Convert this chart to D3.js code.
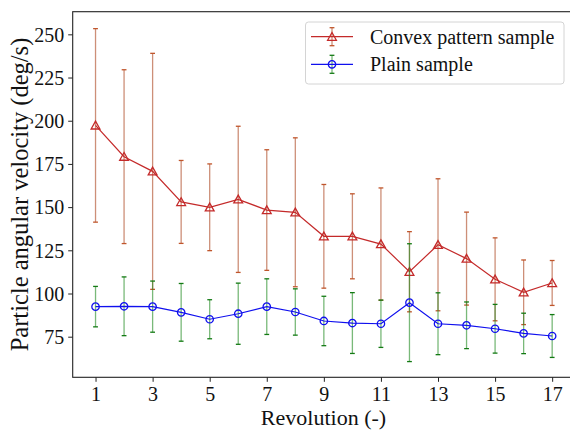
<!DOCTYPE html>
<html lang="en">
<head>
<meta charset="utf-8" />
<title>Particle angular velocity</title>
<script src="https://cdn.jsdelivr.net/npm/d3@7"></script>
<style>
body { margin: 0; background: white; }
svg text { font-family: "Liberation Serif", "Times New Roman", serif; fill: #111; }
</style>
</head>
<body>
<script>
// data
var revolution = [1, 2, 3, 4, 5, 6, 7, 8, 9, 10, 11, 12, 13, 14, 15, 16, 17];
var convexMean = [197.3, 179.2, 170.7, 153.0, 149.9, 154.5, 148.3, 147.0, 133.1, 133.1, 128.6, 112.6, 128.2, 120.2, 108.2, 100.7, 106.1];
var convexErr  = [56.0, 50.3, 68.3, 24.0, 25.1, 42.3, 34.9, 43.1, 30.0, 24.6, 32.5, 23.2, 38.2, 26.9, 24.0, 18.7, 13.0];
var plainMean  = [92.4, 92.6, 92.4, 89.1, 85.1, 88.3, 92.4, 89.3, 84.1, 82.9, 82.5, 94.7, 82.5, 81.6, 79.6, 76.9, 75.4];
var plainErr   = [11.7, 17.0, 14.8, 16.7, 11.3, 17.7, 16.1, 13.4, 14.3, 17.6, 13.7, 34.1, 17.9, 13.5, 14.1, 11.7, 12.4];
var xTicks = [1, 3, 5, 7, 9, 11, 13, 15, 17];
var yTicks = [75, 100, 125, 150, 175, 200, 225, 250];
var seriesNames = ["Convex pattern sample", "Plain sample"];
var xLabel = "Revolution (-)";
var yLabel = "Particle angular velocity (deg/s)";

var w = 570;
var h = 431;
var plot = { left: 72.7, right: 575, top: 11.7, bottom: 377.3 };

var svg = d3.select("body")
            .append("svg")
            .attr("width", w)
            .attr("height", h);

var x = d3.scaleLinear()
          .domain([0.2, 17.8])
          .range([plot.left, plot.right]);
var y = d3.scaleLinear()
          .domain([51.5, 263.1])
          .range([plot.bottom, plot.top]);

var styles = [
  { line: "#c42a2a", bar: "#b8603f", barOpacity: 0.7, cap: "#c0562c", marker: "triangle" },
  { line: "#1010ee", bar: "#1f8a1f", barOpacity: 0.6, cap: "#137a13", marker: "circle" }
];

function markerPath(kind) {
  if (kind === "triangle") return "M0,-4.2L-4.4,3.6L4.4,3.6Z";
  return d3.arc()({ innerRadius: 0, outerRadius: 3.7, startAngle: 0, endAngle: 2 * Math.PI });
}

function drawSeries(mean, err, st) {
  var g = svg.append("g");
  var capW = 2.4;
  g.selectAll("line.bar")
   .data(revolution)
   .enter()
   .append("line")
   .attr("x1", function(d) { return x(d); })
   .attr("x2", function(d) { return x(d); })
   .attr("y1", function(d, i) { return y(mean[i] - err[i]); })
   .attr("y2", function(d, i) { return y(mean[i] + err[i]); })
   .attr("stroke", st.bar)
   .attr("stroke-opacity", st.barOpacity)
   .attr("stroke-width", 1.3);
  [-1, 1].forEach(function(sgn) {
    g.selectAll("line.cap" + sgn)
     .data(revolution)
     .enter()
     .append("line")
     .attr("x1", function(d) { return x(d) - capW; })
     .attr("x2", function(d) { return x(d) + capW; })
     .attr("y1", function(d, i) { return y(mean[i] + sgn * err[i]); })
     .attr("y2", function(d, i) { return y(mean[i] + sgn * err[i]); })
     .attr("stroke", st.cap)
     .attr("stroke-width", 1.3);
  });
  var line = d3.line()
               .x(function(d) { return x(d); })
               .y(function(d, i) { return y(mean[i]); });
  g.append("path")
   .datum(revolution)
   .attr("d", line)
   .attr("fill", "none")
   .attr("stroke", st.line)
   .attr("stroke-width", 1.2);
  g.selectAll("path.mk")
   .data(revolution)
   .enter()
   .append("path")
   .attr("transform", function(d, i) { return "translate(" + x(d) + "," + y(mean[i]) + ")"; })
   .attr("d", markerPath(st.marker))
   .attr("fill", "none")
   .attr("stroke", st.line)
   .attr("stroke-width", 1.3);
}

drawSeries(convexMean, convexErr, styles[0]);
drawSeries(plainMean, plainErr, styles[1]);

// axes
var xAxis = svg.append("g")
               .attr("transform", "translate(0," + plot.bottom + ")")
               .call(d3.axisBottom(x).tickValues(xTicks).tickSize(4.5).tickSizeOuter(0).tickPadding(4));
var yAxis = svg.append("g")
               .attr("transform", "translate(" + plot.left + ",0)")
               .call(d3.axisLeft(y).tickValues(yTicks).tickSize(4.5).tickSizeOuter(0).tickPadding(4));
[xAxis, yAxis].forEach(function(a) {
  a.select(".domain").remove();
  a.selectAll(".tick line").attr("stroke", "#222").attr("stroke-width", 1);
  a.selectAll(".tick text")
   .attr("font-size", "20px")
   .attr("font-family", "'Liberation Serif', 'Times New Roman', serif")
   .attr("fill", "#111");
});
xAxis.selectAll(".tick text").attr("dy", "0.78em");
yAxis.selectAll(".tick text").attr("dy", "0.34em");

svg.append("rect")
   .attr("x", plot.left)
   .attr("y", plot.top)
   .attr("width", plot.right - plot.left)
   .attr("height", plot.bottom - plot.top)
   .attr("fill", "none")
   .attr("stroke", "#222")
   .attr("stroke-width", 1.1);

svg.append("text")
   .attr("x", 323.5)
   .attr("y", 425)
   .attr("text-anchor", "middle")
   .attr("font-size", "22px")
   .text(xLabel);

svg.append("text")
   .attr("transform", "translate(28," + ((plot.top + plot.bottom) / 2) + ") rotate(-90)")
   .attr("text-anchor", "middle")
   .attr("font-size", "24.5px")
   .text(yLabel);

// legend
var leg = svg.append("g");
leg.append("rect")
   .attr("x", 305.5)
   .attr("y", 22)
   .attr("width", 258.5)
   .attr("height", 62)
   .attr("rx", 3)
   .attr("fill", "white")
   .attr("fill-opacity", 0.8)
   .attr("stroke", "#d4d4d4")
   .attr("stroke-width", 1);

var legRows = leg.selectAll("g.row")
                 .data(seriesNames)
                 .enter()
                 .append("g")
                 .attr("transform", function(d, i) { return "translate(332," + (36.7 + i * 27.6) + ")"; });
legRows.append("line")
       .attr("x1", 0).attr("x2", 0).attr("y1", -9).attr("y2", 9)
       .attr("stroke", function(d, i) { return styles[i].bar; })
       .attr("stroke-opacity", function(d, i) { return styles[i].barOpacity; })
       .attr("stroke-width", 1.3);
[-9, 9].forEach(function(cy) {
  legRows.append("line")
         .attr("x1", -2.4).attr("x2", 2.4).attr("y1", cy).attr("y2", cy)
         .attr("stroke", function(d, i) { return styles[i].cap; })
         .attr("stroke-width", 1.3);
});
legRows.append("line")
       .attr("x1", -21).attr("x2", 21).attr("y1", 0).attr("y2", 0)
       .attr("stroke", function(d, i) { return styles[i].line; })
       .attr("stroke-width", 1.2);
legRows.append("path")
       .attr("d", function(d, i) { return markerPath(styles[i].marker); })
       .attr("fill", "none")
       .attr("stroke", function(d, i) { return styles[i].line; })
       .attr("stroke-width", 1.3);
legRows.append("text")
       .attr("x", 38)
       .attr("y", 0)
       .attr("dy", "0.34em")
       .attr("font-size", "20px")
       .text(function(d) { return d; });
</script>
</body>
</html>
